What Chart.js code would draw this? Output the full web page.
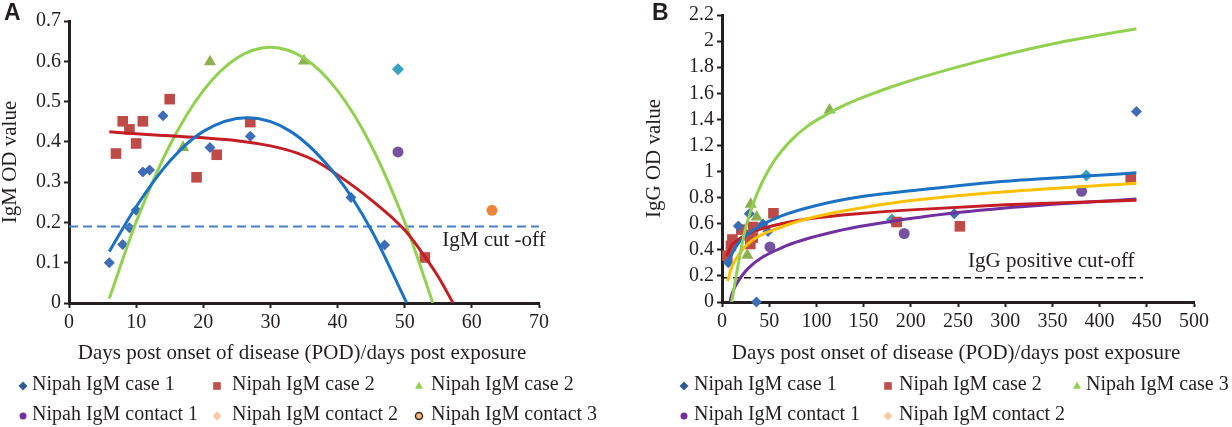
<!DOCTYPE html>
<html>
<head>
<meta charset="utf-8">
<script src="https://cdn.jsdelivr.net/npm/chart.js@4/dist/chart.umd.min.js"></script>
<style>
  html, body { margin: 0; padding: 0; background: #fff; }
  .row { display: flex; width: 1232px; height: 427px; }
  canvas { display: block; }
</style>
</head>
<body>
<div class="row">
  <canvas id="chart-a" width="616" height="427"></canvas>
  <canvas id="chart-b" width="616" height="427"></canvas>
</div>
<script>
// ---- panel A : IgM ----
const xTicksA = [0, 10, 20, 30, 40, 50, 60, 70];
const yTicksA = [0, 0.1, 0.2, 0.3, 0.4, 0.5, 0.6, 0.7];

const case1DaysA = [6, 8, 9, 10, 11, 12, 14, 21, 27, 42, 47];
const case1OdA   = [0.10, 0.145, 0.187, 0.23, 0.325, 0.33, 0.465, 0.386, 0.414, 0.262, 0.144];
const case2DaysA = [7, 8, 9, 10, 11, 15, 19, 22, 27, 53];
const case2OdA   = [0.371, 0.451, 0.431, 0.396, 0.451, 0.506, 0.312, 0.368, 0.449, 0.113];
const case2bDaysA = [17, 21, 35];
const case2bOdA   = [0.386, 0.599, 0.601];
const contact1DaysA = [49];
const contact1OdA   = [0.375];
const contact2DaysA = [49];
const contact2OdA   = [0.58];
const contact3DaysA = [63];
const contact3OdA   = [0.23];

// trend lines
const trend1DaysA = [6, 10, 15, 20, 26.5, 33, 40, 45, 50.3];
const trend1OdA   = [0.128, 0.239, 0.352, 0.426, 0.46, 0.426, 0.312, 0.182, 0];
const trend2DaysA = [6, 10, 15, 20, 25, 30, 34, 37, 40, 45, 50, 53, 55, 57.2];
const trend2OdA   = [0.425, 0.42, 0.415, 0.41, 0.403, 0.39, 0.372, 0.35, 0.318, 0.256, 0.181, 0.115, 0.065, 0];
const trend2bDaysA = [6, 10, 15, 20, 25, 30, 35, 40, 45, 50, 54.2];
const trend2bOdA   = [0.011, 0.201, 0.391, 0.527, 0.608, 0.635, 0.608, 0.527, 0.391, 0.201, 0];

const cutoffDaysA = [0, 70];
const cutoffOdA   = [0.19, 0.19];

// ---- panel B : IgG ----
const xTicksB = [0, 50, 100, 150, 200, 250, 300, 350, 400, 450, 500];
const yTicksB = [0, 0.2, 0.4, 0.6, 0.8, 1, 1.2, 1.4, 1.6, 1.8, 2, 2.2];

const case1DaysB = [6.7, 17.3, 28.9, 36.5, 43.5, 48.7, 246, 439];
const case1OdB   = [0.30, 0.583, 0.677, 0, 0.598, 0.54, 0.677, 1.461];
const case2DaysB = [5.6, 9.5, 11, 20.5, 28, 30, 32.5, 33, 54.5, 185, 252, 433];
const case2OdB   = [0.355, 0.43, 0.479, 0.555, 0.512, 0.445, 0.494, 0.575, 0.68, 0.613, 0.58, 0.94];
const case3DaysB = [26.8, 30.4, 36.7, 114];
const case3OdB   = [0.359, 0.749, 0.652, 1.472];
const contact1DaysB = [50.8, 193, 381];
const contact1OdB   = [0.422, 0.525, 0.848];
const contact2DaysB = [180, 386];
const contact2OdB   = [0.632, 0.97];

const trend1DaysB = [6, 10, 17.3, 35, 63, 100, 150, 210, 300, 386, 439];
const trend1OdB   = [0.27, 0.36, 0.45, 0.56, 0.66, 0.74, 0.81, 0.86, 0.925, 0.965, 0.99];
const trend2DaysB = [5, 10, 14, 28, 63, 100, 150, 210, 300, 439];
const trend2OdB   = [0.35, 0.43, 0.46, 0.525, 0.60, 0.645, 0.68, 0.71, 0.745, 0.78];
const trend3DaysB = [10.3, 15.5, 24.4, 35, 45.5, 56, 74, 91, 109, 127, 148, 180, 210, 280, 351, 439];
const trend3OdB   = [0, 0.22, 0.55, 0.79, 0.96, 1.09, 1.245, 1.35, 1.43, 1.50, 1.565, 1.65, 1.72, 1.86, 1.98, 2.095];
const trend4DaysB = [6, 10, 14, 28, 63, 100, 150, 210, 300, 439];
const trend4OdB   = [0.16, 0.26, 0.32, 0.45, 0.575, 0.655, 0.725, 0.785, 0.845, 0.91];
const trend5DaysB = [8.5, 10, 14, 28, 63, 120, 210, 300, 439];
const trend5OdB   = [0, 0.05, 0.12, 0.26, 0.415, 0.54, 0.65, 0.72, 0.79];

const cutoffDaysB = [0, 446];
const cutoffOdB   = [0.185, 0.185];

const INK = '#231F20';
const SERIF = '"Liberation Serif", "Times New Roman", serif';

const pts = (xs, ys) => xs.map((x, i) => ({x: x, y: ys[i]}));

function drawMarker(ctx, style, x, y, r, fill, stroke) {
    ctx.beginPath();
    if (style === 'rectRot') {
        ctx.moveTo(x, y - r); ctx.lineTo(x + r, y); ctx.lineTo(x, y + r); ctx.lineTo(x - r, y);
        ctx.closePath();
    } else if (style === 'rect') {
        ctx.rect(x - r * 0.85, y - r * 0.85, r * 1.7, r * 1.7);
    } else if (style === 'triangle') {
        ctx.moveTo(x, y - r); ctx.lineTo(x + r * 0.9, y + r * 0.6); ctx.lineTo(x - r * 0.9, y + r * 0.6);
        ctx.closePath();
    } else {
        ctx.arc(x, y, r, 0, Math.PI * 2);
    }
    ctx.fillStyle = fill;
    ctx.fill();
    if (stroke) { ctx.lineWidth = 1.5; ctx.strokeStyle = stroke; ctx.stroke(); }
}

//plugin [panelDecor] : panel letter, x title, cut-off text, legend grid
const panelDecor = {
    id: 'panelDecor',
    afterDraw: (chart, args, options) => {
        const {ctx, chartArea: {left, right}, scales: {x, y}} = chart;
        ctx.save();

        ctx.fillStyle = INK;
        ctx.font = 'bold 23px "Liberation Sans", Arial, sans-serif';
        ctx.textAlign = 'left';
        ctx.textBaseline = 'top';
        ctx.fillText(options.letter, options.letterX, 2);

        ctx.font = '21px ' + SERIF;
        ctx.textAlign = 'center';
        ctx.textBaseline = 'middle';
        ctx.fillText(options.xTitle, (left + right) / 2 - 2, 353);

        ctx.textAlign = 'right';
        ctx.fillText(options.cutText, x.getPixelForValue(options.cutX), y.getPixelForValue(options.cutY) + options.cutDy);

        ctx.font = '20px ' + SERIF;
        ctx.textAlign = 'left';
        chart.data.datasets.forEach(ds => {
            if (ds.legendSlot === undefined) return;
            const col = ds.legendSlot % 3;
            const row = Math.floor(ds.legendSlot / 3);
            const my = options.legendRows[row];
            drawMarker(ctx, ds.pointStyle, options.markerCols[col], my + 1, ds.legendSize, ds.legendColor, ds.legendStroke);
            ctx.fillStyle = INK;
            ctx.fillText(ds.label, options.textCols[col], my);
        });

        ctx.restore();
    }
};

function scaleOpts(ticks, min, max, boxSize, horizontal, title, titlePad) {
    const o = {
        type: 'linear',
        min: min,
        max: max,
        afterBuildTicks: (scale) => { scale.ticks = ticks.map(v => ({value: v})); },
        afterFit: (scale) => {
            if (horizontal) scale.height = boxSize; else scale.width = boxSize;
        },
        grid: {
            drawOnChartArea: false,
            drawTicks: true,
            tickLength: 5,
            tickWidth: 2,
            color: INK
        },
        border: { display: true, color: INK, width: 3 },
        ticks: {
            color: INK,
            padding: 3,
            maxRotation: 0,
            autoSkip: false,
            font: { family: SERIF, size: 20 },
            callback: (v) => String(v)
        }
    };
    if (title) {
        o.title = {
            display: true,
            text: title,
            color: INK,
            font: { family: SERIF, size: 21, lineHeight: 1 },
            padding: { top: titlePad, bottom: 0 }
        };
    }
    return o;
}

function trend(xs, ys, color) {
    return {
        data: pts(xs, ys), showLine: true, borderColor: color, borderWidth: 3,
        pointRadius: 0, cubicInterpolationMode: 'monotone', order: 0, fill: false
    };
}
function cutoff(xs, ys, color, dash, width) {
    return {
        data: pts(xs, ys), showLine: true, borderColor: color, borderWidth: width,
        borderDash: dash, pointRadius: 0, order: 0, fill: false
    };
}
function marks(label, xs, ys, style, color, radius, slot, legendColor, legendSize, legendStroke) {
    return {
        label: label, data: pts(xs, ys), pointStyle: style, pointRadius: radius,
        pointBackgroundColor: color, pointBorderColor: color, pointBorderWidth: 0,
        backgroundColor: color, order: 1, clip: false,
        legendSlot: slot, legendColor: legendColor || color, legendSize: legendSize, legendStroke: legendStroke
    };
}

Chart.defaults.font.family = SERIF;
Chart.defaults.color = INK;

let chartA = new Chart(document.getElementById('chart-a'), {
    type: 'scatter',
    data: {
        datasets: [
            trend(trend1DaysA, trend1OdA, '#1B72C2'),
            trend(trend2DaysA, trend2OdA, '#C41E24'),
            trend(trend2bDaysA, trend2bOdA, '#92D050'),
            cutoff(cutoffDaysA, cutoffOdA, '#4A7FC6', [9, 5], 2),
            marks('Nipah IgM case 1', case1DaysA, case1OdA, 'rectRot', '#3E6DB5', 5.5, 0, '#2F5A96', 4.5),
            marks('Nipah IgM case 2', case2DaysA, case2OdA, 'rect', '#BE4B48', 7.5, 1, '#C0504D', 4.5),
            marks('Nipah IgM case 2', case2bDaysA, case2bOdA, 'triangle', '#8DB04F', 7, 2, '#92D050', 4.5),
            marks('Nipah IgM contact 1', contact1DaysA, contact1OdA, 'circle', '#7453A1', 5.5, 3, '#7030A0', 3.5),
            marks('Nipah IgM contact 2', contact2DaysA, contact2OdA, 'rectRot', '#3AA3BF', 6, 4, '#FAC8A0', 4.5),
            marks('Nipah IgM contact 3', contact3DaysA, contact3OdA, 'circle', '#E9853C', 5.5, 5, '#F9B97A', 3.5, '#3A2A1A')
        ]
    },
    options: {
        responsive: false,
        animation: false,
        layout: { padding: { top: 21, right: 77, bottom: 0, left: 0 } },
        scales: {
            x: scaleOpts(xTicksA, 0, 70, 124, true),
            y: scaleOpts(yTicksA, 0, 0.7, 69, false, 'IgM OD value', 0)
        },
        plugins: {
            legend: { display: false },
            tooltip: { enabled: false },
            panelDecor: {
                letter: 'A', letterX: 4,
                xTitle: 'Days post onset of disease (POD)/days post exposure',
                cutText: 'IgM cut -off', cutX: 71, cutY: 0.19, cutDy: 14,
                markerCols: [23, 217, 419], textCols: [32, 232, 431], legendRows: [385, 415]
            }
        }
    },
    plugins: [panelDecor]
});

let chartB = new Chart(document.getElementById('chart-b'), {
    type: 'scatter',
    data: {
        datasets: [
            trend(trend3DaysB, trend3OdB, '#92D050'),
            trend(trend1DaysB, trend1OdB, '#1B72C2'),
            trend(trend4DaysB, trend4OdB, '#FFC000'),
            trend(trend2DaysB, trend2OdB, '#C41E24'),
            trend(trend5DaysB, trend5OdB, '#7030A0'),
            cutoff(cutoffDaysB, cutoffOdB, '#111111', [7, 4], 1.5),
            marks('Nipah IgM case 1', case1DaysB, case1OdB, 'rectRot', '#3E6DB5', 5.5, 0, '#2F5A96', 4.5),
            marks('Nipah IgM case 2', case2DaysB, case2OdB, 'rect', '#BE4B48', 7.5, 1, '#C0504D', 4.5),
            marks('Nipah IgM case 3', case3DaysB, case3OdB, 'triangle', '#8DB04F', 7, 2, '#92D050', 4.5),
            marks('Nipah IgM contact 1', contact1DaysB, contact1OdB, 'circle', '#7453A1', 5.5, 3, '#7030A0', 3.5),
            marks('Nipah IgM contact 2', contact2DaysB, contact2OdB, 'rectRot', '#3AA3BF', 6, 4, '#FAC8A0', 4.5)
        ]
    },
    options: {
        responsive: false,
        animation: false,
        layout: { padding: { top: 14, right: 38, bottom: 0, left: 0 } },
        scales: {
            x: scaleOpts(xTicksB, 0, 500, 125, true),
            y: scaleOpts(yTicksB, 0, 2.2, 106, false, 'IgG OD value', 28)
        },
        plugins: {
            legend: { display: false },
            tooltip: { enabled: false },
            panelDecor: {
                letter: 'B', letterX: 36,
                xTitle: 'Days post onset of disease (POD)/days post exposure',
                cutText: 'IgG positive cut-off', cutX: 437, cutY: 0.185, cutDy: -16,
                markerCols: [68, 272, 461], textCols: [78, 283, 470], legendRows: [385, 415]
            }
        }
    },
    plugins: [panelDecor]
});
</script>
</body>
</html>
